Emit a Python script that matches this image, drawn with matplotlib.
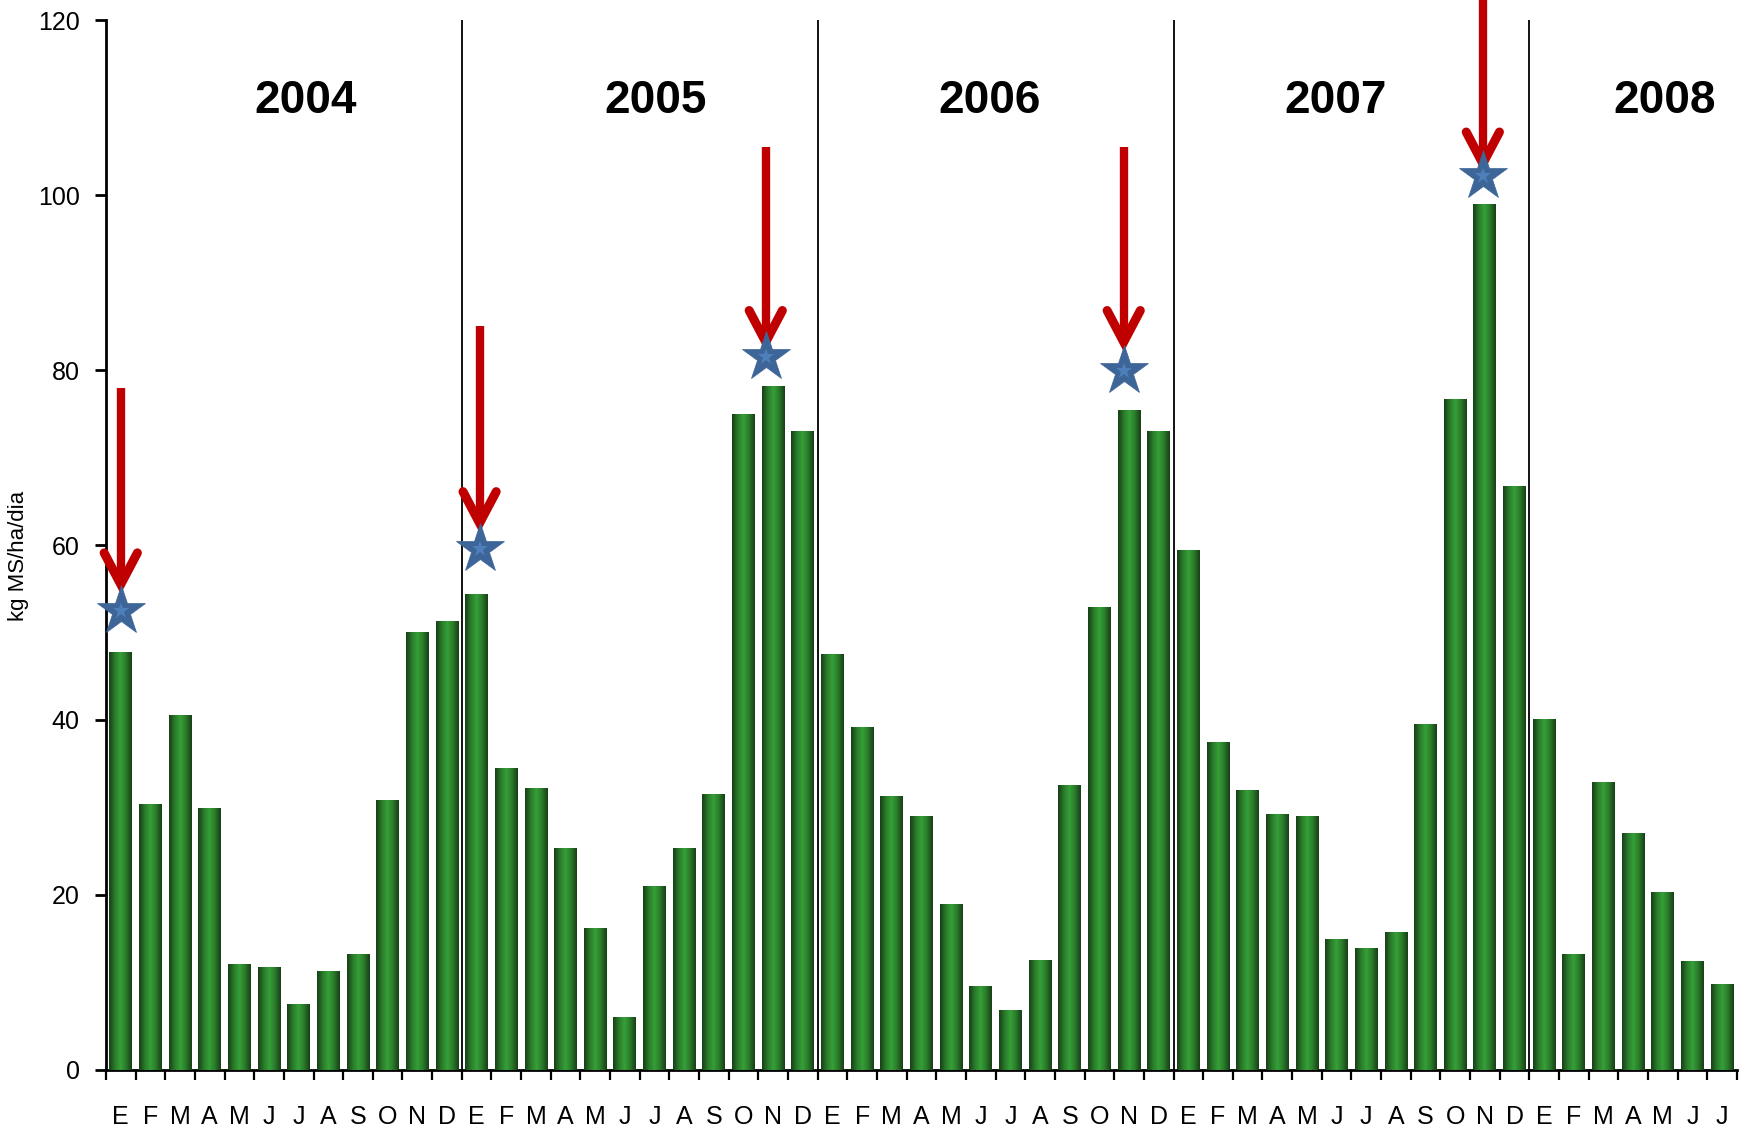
import matplotlib
matplotlib.use("Agg")
import matplotlib.pyplot as plt
import numpy as np
from matplotlib.colors import LinearSegmentedColormap
from matplotlib import font_manager

names = {f.name for f in font_manager.fontManager.ttflist}
narrow = 'Liberation Sans Narrow' if 'Liberation Sans Narrow' in names else 'Liberation Sans'

months = ["E", "F", "M", "A", "M", "J", "J", "A", "S", "O", "N", "D"]
years = ["2004", "2005", "2006", "2007", "2008"]
v2004 = [47.8, 30.4, 40.6, 29.9, 12.1, 11.8, 7.5, 11.3, 13.2, 30.8, 50.1, 51.3]
v2005 = [54.4, 34.5, 32.2, 25.4, 16.2, 6.0, 21.0, 25.4, 31.5, 75.0, 78.2, 73.0]
v2006 = [47.5, 39.2, 31.3, 29.0, 19.0, 9.6, 6.9, 12.6, 32.6, 52.9, 75.4, 73.0]
v2007 = [59.4, 37.5, 32.0, 29.2, 29.0, 15.0, 13.9, 15.8, 39.5, 76.7, 99.0, 66.8]
v2008 = [40.1, 13.2, 32.9, 27.1, 20.3, 12.4, 9.8]
values = v2004 + v2005 + v2006 + v2007 + v2008
labels = months * 4 + months[:7]

# highlighted months: index into series, star level, arrow start, arrow tip
mark_idx = [0, 12, 22, 34, 46]
mark_dx = [0.0, 0.1, -0.25, -0.18, -0.07]
star_y = [52.5, 59.5, 81.5, 79.9, 102.2]
arrow_start = [78.0, 85.0, 105.5, 105.5, 124.0]
arrow_tip = [55.5, 62.5, 83.2, 83.2, 103.6]

fig = plt.figure(figsize=(17.48, 11.32), dpi=100)
ax = fig.add_axes([0.0606, 0.0548, 0.9331, 0.9275])

n = len(values)
x = np.arange(n)
bars = ax.bar(x, values, width=0.77, color="#2e8b2e", zorder=2)

cmap = LinearSegmentedColormap.from_list(
    "g", ["#173f17", "#2a7a2a", "#36a038", "#2a7a2a", "#173f17"])
grad = np.linspace(0, 1, 64).reshape(1, -1)
for b in bars:
    x0, w, h = b.get_x(), b.get_width(), b.get_height()
    im = ax.imshow(grad, cmap=cmap, aspect="auto", extent=[x0, x0 + w, 0, h],
                   zorder=3, interpolation="bilinear")
    im.set_clip_path(b)

ax.set_xlim(-0.5, n - 0.5)
ax.set_ylim(0, 120)

# year separators
for k in range(1, 5):
    ax.axvline(12 * k - 0.5, color="black", lw=1.3, zorder=4)

# year labels
year_centers = [6.25, 18.05, 29.3, 40.95, 52.05]
for yc, yr in zip(year_centers, years):
    ax.text(yc, 110.8, yr, ha="center", va="center", fontsize=33,
            fontweight="bold", family="Liberation Sans")

# arrows and stars
for i, dx, sy, a0, a1 in zip(mark_idx, mark_dx, star_y, arrow_start, arrow_tip):
    xi = i + dx
    ax.plot([xi, xi], [a0, a1 + 0.6], color="#c00000", lw=6, solid_capstyle="butt",
            zorder=5, clip_on=False)
    ax.plot([xi - 0.56, xi, xi + 0.56], [a1 + 3.6, a1, a1 + 3.6], color="#c00000",
            lw=6.5, solid_capstyle="round", solid_joinstyle="miter", zorder=5,
            clip_on=False)
    ax.plot(xi, sy, marker="*", markersize=37, color="#3d6598",
            markeredgecolor="#3d6598", markeredgewidth=0.5, zorder=6, clip_on=False)
    ax.plot(xi, sy, marker="*", markersize=12, color="#4d7fbb",
            markeredgewidth=0, zorder=7, clip_on=False)

# axes styling
for s in ["top", "right"]:
    ax.spines[s].set_visible(False)
ax.spines["left"].set_linewidth(2)
ax.spines["bottom"].set_linewidth(2)
ax.set_yticks(range(0, 121, 20))
ax.tick_params(axis="y", length=8, width=2, labelsize=18, pad=11)
for t in ax.get_yticklabels():
    t.set_family(narrow)

ax.set_xticks(np.arange(-0.5, n, 1.0))
ax.set_xticklabels([])
ax.set_xticks(x, minor=True)
ax.set_xticklabels(labels, minor=True, fontsize=18, family=narrow)
ax.tick_params(axis="x", which="major", length=7, width=1.6, direction="out")
ax.tick_params(axis="x", which="minor", length=0, pad=25)

ax.set_ylabel("kg MS/ha/dia", fontsize=16, family="Liberation Sans")
ax.yaxis.set_label_coords(-0.047, 0.49)

fig.savefig("out.png", dpi=100)
